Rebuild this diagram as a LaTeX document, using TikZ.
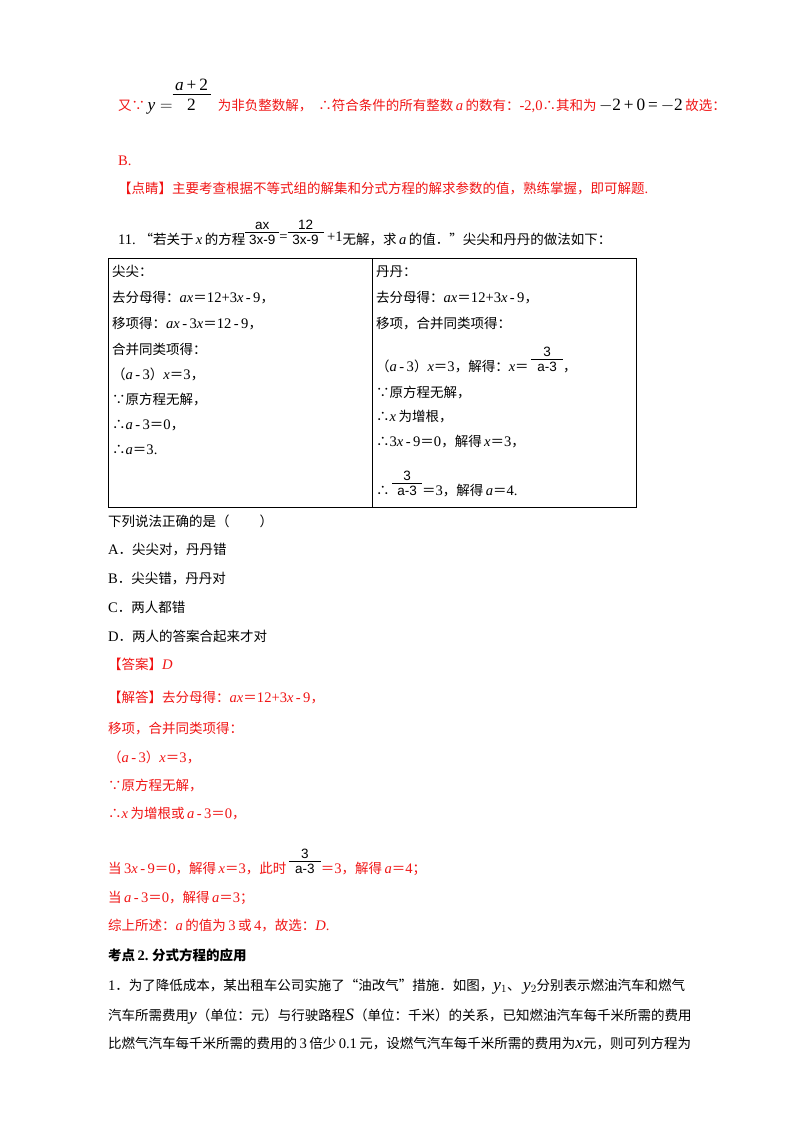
\documentclass[tikz,border=0pt]{standalone}
\usepackage{fontspec}
\usepackage{array}
\setmainfont{Liberation Serif}[Scale=1.08]
\newfontfamily\cjk{Noto Sans CJK SC}
\newfontfamily\arl{Liberation Sans}
\newcommand\zh[1]{{\cjk #1}}
\newcommand\fr[3]{\begin{tabular}[b]{@{}c@{}}\makebox[#1]{\arl #2}\\[-3pt]\hline\rule{0pt}{12pt}\makebox[#1]{\arl #3}\end{tabular}}
\definecolor{ans}{RGB}{240,20,20}
\begin{document}
\begin{tikzpicture}[x=1pt,y=-1pt,
  t/.style={anchor=base west,inner sep=0pt,font=\fontsize{13.5}{16}\selectfont},
  r/.style={t,text=ans}]
\useasboundingbox (0,0) rectangle (800,1132);
% top
\node[r] (l1) at (118,110) {\zh{又∵}\,{\color{black}\begin{tabular}[b]{@{}c@{}}{\fontsize{16}{18}\selectfont$\textit{y}=$}\end{tabular}\begin{tabular}[b]{@{}c@{}}\fontsize{16}{18}\selectfont\makebox[38pt]{\textit{a}\,+\,2}\\[-2pt]\hline\rule{0pt}{16pt}\fontsize{16}{18}\selectfont 2\end{tabular}}\ \ \zh{为非负整数解，\ \ ∴符合条件的所有整数}\,\textit{a}\,\zh{的数有：}-2,0\zh{∴其和为}\,{\color{black}\fontsize{16}{18}\selectfont$-$2\,+\,0\,=\,$-$2}\,\zh{故选：}};
\node[r] (lb) at (118,165) {B.};
\node[r] (l2) at (118,193) {\zh{【点睛】主要考查根据不等式组的解集和分式方程的解求参数的值，熟练掌握，即可解题}.};
\node[t] (q11) at (118,244) {11.\ \zh{“若关于}\,\textit{x}\,\zh{的方程}\fr{34pt}{ax}{3x-9}\raisebox{3pt}{=}\fr{36pt}{12}{3x-9}\raisebox{3pt}{\ +1}\zh{无解，求}\,\textit{a}\,\zh{的值．”尖尖和丹丹的做法如下：}};
% table
\draw[line width=1pt] (108,258) rectangle (636,507);
\draw[line width=1pt] (372,258) -- (372,507);
\node[t] (a1) at (112,276) {\zh{尖尖：}};
\node[t] (a2) at (112,302) {\zh{去分母得：}\textit{ax}\zh{＝}12+3\textit{x}\,-\,9\zh{，}};
\node[t] (a3) at (112,328) {\zh{移项得：}\textit{ax}\,-\,3\textit{x}\zh{＝}12\,-\,9\zh{，}};
\node[t] (a4) at (112,354) {\zh{合并同类项得：}};
\node[t] (a5) at (112,379) {\zh{（}\textit{a}\,-\,3\zh{）}\textit{x}\zh{＝}3\zh{，}};
\node[t] (a6) at (112,404) {\zh{∵原方程无解，}};
\node[t] (a7) at (112,429) {\zh{∴}\textit{a}\,-\,3\zh{＝}0\zh{，}};
\node[t] (a8) at (112,454) {\zh{∴}\textit{a}\zh{＝}3.};
\node[t] (b1) at (376,276) {\zh{丹丹：}};
\node[t] (b2) at (376,302) {\zh{去分母得：}\textit{ax}\zh{＝}12+3\textit{x}\,-\,9\zh{，}};
\node[t] (b3) at (376,328) {\zh{移项，合并同类项得：}};
\node[t] (b4) at (376,371) {\zh{（}\textit{a}\,-\,3\zh{）}\textit{x}\zh{＝}3\zh{，解得：}\textit{x}\zh{＝}\,\fr{32pt}{3}{a-3}\zh{，}};
\node[t] (b5) at (376,397) {\zh{∵原方程无解，}};
\node[t] (b6) at (376,421) {\zh{∴}\textit{x}\,\zh{为增根，}};
\node[t] (b7) at (376,446) {\zh{∴}3\textit{x}\,-\,9\zh{＝}0\zh{，解得}\,\textit{x}\zh{＝}3\zh{，}};
\node[t] (b8) at (376,495) {\zh{∴}\,\fr{30pt}{3}{a-3}\zh{＝}3\zh{，解得}\,\textit{a}\zh{＝}4.};
% options
\node[t] (c0) at (108,526) {\zh{下列说法正确的是（\hspace{30pt}）}};
\node[t] (cA) at (108,554) {A\zh{．尖尖对，丹丹错}};
\node[t] (cB) at (108,583) {B\zh{．尖尖错，丹丹对}};
\node[t] (cC) at (108,612) {C\zh{．两人都错}};
\node[t] (cD) at (108,641) {D\zh{．两人的答案合起来才对}};
\node[r] (d1) at (108,669) {\zh{【答案】}\textit{D}};
\node[r] (d2) at (108,702) {\zh{【解答】去分母得：}\textit{ax}\zh{＝}12+3\textit{x}\,-\,9\zh{，}};
\node[r] (d3) at (108,733) {\zh{移项，合并同类项得：}};
\node[r] (d4) at (108,762) {\zh{（}\textit{a}\,-\,3\zh{）}\textit{x}\zh{＝}3\zh{，}};
\node[r] (d5) at (108,790) {\zh{∵原方程无解，}};
\node[r] (d6) at (108,818) {\zh{∴}\textit{x}\,\zh{为增根或}\,\textit{a}\,-\,3\zh{＝}0\zh{，}};
\node[r] (d7) at (108,873) {\zh{当}\,3\textit{x}\,-\,9\zh{＝}0\zh{，解得}\,\textit{x}\zh{＝}3\zh{，此时}\,{\color{black}\fr{32pt}{3}{a-3}}\zh{＝}3\zh{，解得}\,\textit{a}\zh{＝}4\zh{；}};
\node[r] (d8) at (108,902) {\zh{当}\,\textit{a}\,-\,3\zh{＝}0\zh{，解得}\,\textit{a}\zh{＝}3\zh{；}};
\node[r] (d9) at (108,930) {\zh{综上所述：}\textit{a}\,\zh{的值为}\,3\,\zh{或}\,4\zh{，故选：}\textit{D}.};
\node[t] (e1) at (108,960) {\zh{\bfseries 考点}\,\textbf{2.}\ \zh{\bfseries 分式方程的应用}};
\node[t] (e2) at (108,990) {1\zh{．为了降低成本，某出租车公司实施了“油改气”措施．如图，}{\fontsize{16}{18}\selectfont\textit{y}$_1$}\zh{、}\,{\fontsize{16}{18}\selectfont\textit{y}$_2$}\zh{分别表示燃油汽车和燃气}};
\node[t] (e3) at (108,1020) {\zh{汽车所需费用}{\fontsize{16}{18}\selectfont\textit{y}}\zh{（单位：元）与行驶路程}{\fontsize{16}{18}\selectfont\textit{S}}\zh{（单位：千米）的关系，已知燃油汽车每千米所需的费用}};
\node[t] (e4) at (108,1048) {\zh{比燃气汽车每千米所需的费用的}\,3\,\zh{倍少}\,0.1\,\zh{元，设燃气汽车每千米所需的费用为}{\fontsize{16}{18}\selectfont\textit{x}}\zh{元，则可列方程为}};
\end{tikzpicture}
\end{document}
